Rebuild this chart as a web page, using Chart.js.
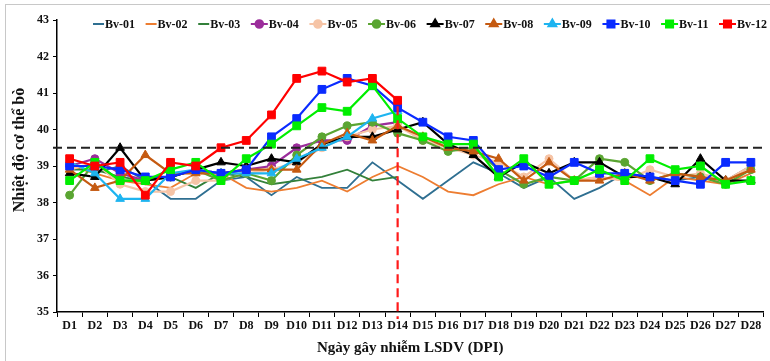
<!DOCTYPE html>
<html>
<head>
<meta charset="utf-8">
<script src="https://cdn.jsdelivr.net/npm/chart.js@4.4.1/dist/chart.umd.min.js"></script>
<style>
  html, body { margin: 0; padding: 0; background: #fff; }
  #wrap { position: relative; width: 770px; height: 361px; overflow: hidden; }
  #frame { position: absolute; left: 5px; top: 4px; width: 800px; height: 400px;
           border-left: 1px solid #c8c8c8; border-top: 1px solid #c8c8c8; pointer-events: none; }
</style>
</head>
<body>
<div id="wrap">
  <canvas id="chart" width="770" height="361"></canvas>
  <div id="frame"></div>
</div>
<script>
/* Body temperature of cattle after LSDV challenge */
var days = [];
for (var d = 1; d <= 28; d++) days.push('D' + d);

var threshold = 39.5;
var challengeDay = 'D14';
var yTitle = 'Nhiệt độ cơ thể bò';

var bv01 = [39.1,38.8,39.0,38.6,38.1,38.1,38.6,38.7,38.2,38.7,38.4,38.4,39.1,38.6,38.1,38.6,39.1,38.8,38.4,38.7,38.1,38.4,38.8,38.7,38.6,38.7,38.6,39.0];
var bv02 = [39.0,38.8,38.6,38.5,38.4,38.8,38.8,38.4,38.3,38.4,38.6,38.3,38.7,39.0,38.7,38.3,38.2,38.5,38.7,38.5,38.6,38.7,38.6,38.2,38.7,38.6,38.5,38.8];
var bv03 = [38.9,38.9,38.7,38.6,38.7,38.4,38.8,38.7,38.5,38.6,38.7,38.9,38.6,38.7,null,null,null,null,null,null,null,null,null,null,null,null,null,null];
var bv04 = [39.0,39.2,38.8,38.6,38.7,38.9,38.8,38.9,39.0,39.5,39.7,39.7,40.1,40.2,null,null,null,null,null,null,null,null,null,null,null,null,null,null];
var bv05 = [38.9,39.1,38.5,38.3,38.3,38.6,38.6,38.8,38.9,39.1,39.5,39.8,40.0,40.1,39.7,39.5,39.3,39.1,38.7,39.2,38.6,38.7,38.6,38.9,38.7,38.8,38.6,39.0];
var bv06 = [38.2,39.1,38.6,38.6,38.7,38.9,38.6,38.8,38.6,39.3,39.8,40.1,40.2,39.9,39.7,39.4,39.5,38.9,38.5,38.7,38.6,39.2,39.1,38.6,38.8,38.7,38.5,38.9];
var bv07 = [38.8,38.7,39.5,38.6,38.7,38.9,39.1,39.0,39.2,39.1,39.6,39.8,39.8,40.0,40.2,39.6,39.3,38.7,39.1,38.8,39.1,39.1,38.7,38.7,38.5,39.2,38.6,38.6];
var bv08 = [38.9,38.4,38.6,39.3,38.8,38.8,38.8,38.9,38.9,38.9,39.6,39.9,39.7,40.1,39.8,39.5,39.4,39.2,38.6,39.1,38.6,38.6,38.8,38.6,38.8,38.7,38.6,38.9];
var bv09 = [39.1,38.8,38.1,38.1,38.8,38.9,38.8,38.8,38.8,39.2,39.5,39.8,40.3,40.5,null,null,null,null,null,null,null,null,null,null,null,null,null,null];
var bv10 = [39.0,39.0,38.9,38.7,38.7,38.9,38.8,38.9,39.8,40.3,41.1,41.4,41.2,40.6,40.2,39.8,39.7,38.9,39.0,38.7,39.1,38.8,38.8,38.7,38.6,38.5,39.1,39.1];
var bv11 = [38.6,39.1,38.6,38.6,38.9,39.1,38.6,39.2,39.6,40.1,40.6,40.5,41.2,40.3,39.8,39.6,39.6,38.7,39.2,38.5,38.6,38.9,38.6,39.2,38.9,39.0,38.5,38.6];
var bv12 = [39.2,39.0,39.1,38.2,39.1,39.0,39.5,39.7,40.4,41.4,41.6,41.3,41.4,40.8,null,null,null,null,null,null,null,null,null,null,null,null,null,null];

var names   = ['Bv-01','Bv-02','Bv-03','Bv-04','Bv-05','Bv-06','Bv-07','Bv-08','Bv-09','Bv-10','Bv-11','Bv-12'];
var values  = [bv01, bv02, bv03, bv04, bv05, bv06, bv07, bv08, bv09, bv10, bv11, bv12];
var colors  = ['#2f6f91','#ed7d31','#33803a','#9b2d9b','#f6c4a6','#5aa532','#000000','#c55a11','#1eb4f0','#0a2bff','#00ee00','#ff0000'];
var markers = [false, false, false, 'circle','circle','circle','triangle','triangle','triangle','rect','rect','rect'];

var FONT = '"Liberation Serif", "Times New Roman", serif';

var datasets = names.map(function(n, i) {
    var m = markers[i];
    var r = !m ? 0 : (m === 'rect' ? 5.5 : (m === 'triangle' ? 5 : 4));
    return {
        label: n,
        data: values[i],
        borderColor: colors[i],
        backgroundColor: colors[i],
        borderWidth: m ? 2.2 : 1.8,
        pointStyle: m || 'circle',
        pointRadius: r,
        pointHoverRadius: r,
        pointBorderWidth: 1,
        tension: 0,
        spanGaps: false,
        order: 11 - i
    };
});

/* threshold line, challenge marker, legend, y title */
var overlay = {
    id: 'overlay',
    afterDatasetsDraw: function(chart) {
        var ctx = chart.ctx, x = chart.scales.x, y = chart.scales.y, a = chart.chartArea;
        ctx.save();
        ctx.lineWidth = 2.2;
        ctx.setLineDash([9, 5]);
        ctx.strokeStyle = '#222';
        var ty = y.getPixelForValue(threshold);
        ctx.beginPath(); ctx.moveTo(a.left - 4, ty); ctx.lineTo(a.right, ty); ctx.stroke();

        ctx.strokeStyle = '#ff1a1a';
        var cx = x.getPixelForValue(days.indexOf(challengeDay));
        ctx.beginPath(); ctx.moveTo(cx, y.getPixelForValue(bv12[13]) + 6); ctx.lineTo(cx, a.bottom + 7); ctx.stroke();
        ctx.restore();
    },
    afterDraw: function(chart) {
        var ctx = chart.ctx;
        ctx.save();
        ctx.font = 'bold 12px ' + FONT;
        ctx.textBaseline = 'middle';
        var left = 93, right = 767, ly = 24;
        var items = names.map(function(n, i) {
            return { sym: markers[i] ? 17 : 11, text: ctx.measureText(n).width };
        });
        var used = items.reduce(function(s, it) { return s + it.sym + 1 + it.text; }, 0);
        var gap = (right - left - used) / (items.length - 1);
        var px = left;
        items.forEach(function(it, i) {
            ctx.strokeStyle = colors[i];
            ctx.fillStyle = colors[i];
            ctx.lineWidth = 2;
            ctx.setLineDash([]);
            ctx.beginPath(); ctx.moveTo(px, ly); ctx.lineTo(px + it.sym, ly); ctx.stroke();
            if (markers[i]) {
                var r = markers[i] === 'rect' ? 5 : (markers[i] === 'triangle' ? 4.5 : 3.8);
                Chart.helpers.drawPoint(ctx, { pointStyle: markers[i], radius: r, borderWidth: 1 }, px + it.sym / 2, ly);
                ctx.fill();
            }
            ctx.fillStyle = '#111';
            ctx.fillText(names[i], px + it.sym + 1, ly + 0.5);
            px += it.sym + 1 + it.text + gap;
        });

        // y axis title sits a bit above the middle of the axis in the original
        ctx.font = 'bold 16px ' + FONT;
        ctx.textAlign = 'center';
        ctx.translate(20, 150);
        ctx.rotate(-Math.PI / 2);
        ctx.fillText(yTitle, 0, 0);
        ctx.restore();
    }
};

new Chart(document.getElementById('chart'), {
    type: 'line',
    data: { labels: days, datasets: datasets },
    options: {
        responsive: false,
        animation: false,
        layout: { padding: { left: 0, top: 20, right: 1, bottom: 0 } },
        plugins: { legend: { display: false }, tooltip: { enabled: false } },
        scales: {
            x: {
                offset: true,
                grid: { offset: true, drawOnChartArea: false, drawTicks: true, tickLength: 5, color: '#000', lineWidth: 1 },
                border: { color: '#000', width: 1.5 },
                ticks: { color: '#111', font: { family: FONT, size: 12, weight: 'bold' }, padding: 2, maxRotation: 0, autoSkip: false },
                title: { display: true, text: 'Ngày gây nhiễm LSDV (DPI)', color: '#111',
                         font: { family: FONT, size: 15, weight: 'bold' }, padding: { top: 0, bottom: 4 } },
                afterFit: function(s) { s.height = 49; }
            },
            y: {
                min: 35, max: 43,
                grid: { drawOnChartArea: false, drawTicks: true, tickLength: 4, color: '#000', lineWidth: 1 },
                border: { color: '#000', width: 1.5 },
                ticks: { stepSize: 1, color: '#111', font: { family: FONT, size: 12, weight: 'bold' }, padding: 4 },
                afterFit: function(s) { s.width = 57; }
            }
        }
    },
    plugins: [overlay]
});
</script>
</body>
</html>
